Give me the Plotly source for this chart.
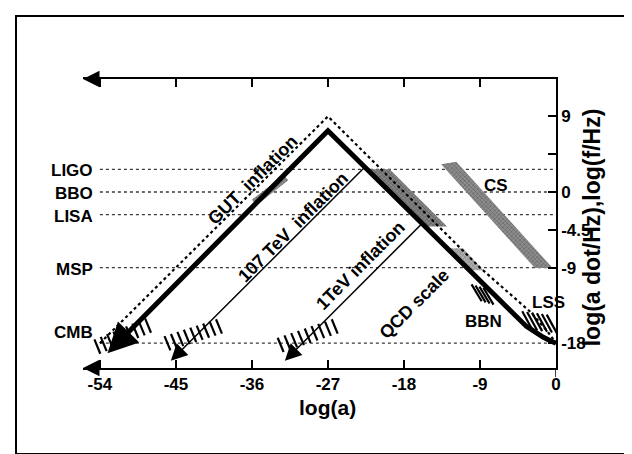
import plotly.graph_objects as go
import math

# ---------------- data ----------------
x_ticks = [-54, -45, -36, -27, -18, -9, 0]
y_ticks = [9, 4.5, 0, -4.5, -9, -18]
y_tick_text = ["9", "", "0", "-4.5", "-9", "-18"]

detector_names = ["LIGO", "BBO", "LISA", "MSP", "CMB"]
detector_logf = [2.7, 0.0, -2.7, -9.0, -18.0]

# thick solid line (GUT inflation), first point is the arrow tip
gut_x = [-53.1, -27.0, -3.5, -2.5, -1.5, -0.5, 0.0]
gut_y = [-19.2, 7.3, -16.0, -16.7, -17.3, -17.8, -18.0]

# dotted companion line
gut_dot_x = [-54.0, -27.0, -9.0, -3.0, -1.0, 0.0]
gut_dot_y = [-18.0, 9.0, -9.0, -14.3, -16.6, -18.0]

# thin lines (first point is arrow tip)
tev7_x = [-45.6, -22.8]
tev7_y = [-20.1, 2.8]
tev1_x = [-32.1, -16.0]
tev1_y = [-20.1, -3.9]

# shaded (stippled) regions
cs_x = [-13.6, -11.8, -0.4, -2.5]
cs_y = [3.3, 3.6, -9.05, -9.05]
band_x = [-22.5, -19.7, -12.9, -15.7]
band_y = [2.7, 2.7, -4.1, -4.1]
msp_x = [-13.1, -11.0, -8.6, -10.5]
msp_y = [-6.7, -6.7, -9.3, -9.3]
bbo_x = [-36.0, -32.2, -31.7, -35.5]
bbo_y = [-0.9, 2.0, 1.4, -1.6]

# hatched regions: axis along which strokes are placed, and stroke count
cmb_gut_axis_x = [-54.3, -48.3]
cmb_gut_axis_y = [-18.4, -15.9]
cmb_tev7_axis_x = [-46.0, -39.9]
cmb_tev7_axis_y = [-18.0, -16.0]
cmb_tev1_axis_x = [-32.6, -26.2]
cmb_tev1_axis_y = [-18.2, -16.0]
bbn_axis_x = [-9.4, -8.0]
bbn_axis_y = [-12.0, -12.4]
lss_axis_x = [-3.4, -0.5]
lss_axis_y = [-15.3, -15.7]
hatch_counts = [9, 9, 9, 4, 6]

curve_labels = ["GUT  inflation", "107 TeV  inflation", "1TeV inflation", "QCD scale"]
curve_label_x = [-35.9, -31.1, -23.1, -16.8]
curve_label_y = [1.4, -4.2, -8.7, -13.3]

region_labels = ["CS", "BBN", "LSS"]
region_label_x = [-7.1, -8.6, -0.9]
region_label_y = [0.8, -15.4, -13.2]

# ---------------- layout geometry ----------------
W, H = 632, 454
ML, MR, MT, MB = 75, 84, 71, 94
XR = [-56.0, 0.0]
YR = [-20.95, 13.45]
PW, PH = W - ML - MR, H - MT - MB


def px2paper(px, py):
    return (px - ML) / PW, (H - MB - py) / PH


FONT = "Liberation Sans, Arial, Helvetica, sans-serif"


def b(t):
    return "<b>" + t + "</b>" if t else ""


fig = go.Figure()

# horizontal detector lines
for v in detector_logf:
    fig.add_trace(go.Scatter(x=[x_ticks[0], x_ticks[-1]], y=[v, v], mode="lines",
                             line=dict(color="#3a3a3a", width=1.3, dash="dot"),
                             hoverinfo="skip"))


def stipple(xs, ys, bg="#b4b4b4", fg="#4a4a4a"):
    fig.add_trace(go.Scatter(x=xs + xs[:1], y=ys + ys[:1], mode="lines", fill="toself",
                             line=dict(width=0, color="rgba(0,0,0,0)"),
                             fillcolor=bg,
                             fillpattern=dict(shape="x", fgcolor=fg, bgcolor=bg,
                                              size=3, solidity=0.4),
                             hoverinfo="skip"))


stipple(cs_x, cs_y, bg="#8e8e8e", fg="#3c3c3c")
stipple(band_x, band_y, bg="#858585", fg="#2e2e2e")
stipple(msp_x, msp_y, bg="#b0b0b0", fg="#555555")
stipple(bbo_x, bbo_y, bg="#8e8e8e", fg="#404040")


def hatch(ax_x, ax_y, n, half):
    hx, hy = half
    xs, ys = [], []
    for i in range(n):
        t = i / (n - 1)
        cx = ax_x[0] + (ax_x[1] - ax_x[0]) * t
        cy = ax_y[0] + (ax_y[1] - ax_y[0]) * t
        xs += [cx - hx, cx + hx, None]
        ys += [cy + hy, cy - hy, None]
    fig.add_trace(go.Scatter(x=xs, y=ys, mode="lines",
                             line=dict(color="black", width=2.2), hoverinfo="skip"))


hatch_axes = [(cmb_gut_axis_x, cmb_gut_axis_y, (0.35, 0.85)),
              (cmb_tev7_axis_x, cmb_tev7_axis_y, (0.35, 0.85)),
              (cmb_tev1_axis_x, cmb_tev1_axis_y, (0.35, 0.85)),
              (bbn_axis_x, bbn_axis_y, (0.6, 1.0)),
              (lss_axis_x, lss_axis_y, (0.6, 1.1))]
for (hxs, hys, half), n in zip(hatch_axes, hatch_counts):
    hatch(hxs, hys, n, half)


def arrow_base(xs, ys, dist):
    dx, dy = xs[1] - xs[0], ys[1] - ys[0]
    n = math.hypot(dx, dy)
    return xs[0] + dx / n * dist, ys[0] + dy / n * dist


# dotted line
fig.add_trace(go.Scatter(x=gut_dot_x, y=gut_dot_y, mode="lines",
                         line=dict(color="black", width=2.2, dash="dot"), hoverinfo="skip"))

annotations = []
for xs, ys, w, dist, asize in [(gut_x, gut_y, 5.0, 2.0, 1.2),
                               (tev7_x, tev7_y, 1.5, 1.6, 2.2),
                               (tev1_x, tev1_y, 1.5, 1.6, 2.2)]:
    bx, by = arrow_base(xs, ys, dist)
    fig.add_trace(go.Scatter(x=[bx] + xs[1:], y=[by] + ys[1:], mode="lines",
                             line=dict(color="black", width=w), hoverinfo="skip"))
    annotations.append(dict(x=xs[0], y=ys[0], ax=bx, ay=by, xref="x", yref="y",
                            axref="x", ayref="y", showarrow=True, arrowhead=2,
                            arrowsize=asize, arrowwidth=w, arrowcolor="black",
                            standoff=0, text=""))

# axis arrows at left end of top and bottom axes
for yv in [YR[0], YR[1]]:
    annotations.append(dict(x=XR[0], y=yv, ax=XR[0] + 1.5, ay=yv, xref="x", yref="y",
                            axref="x", ayref="y", showarrow=True, arrowhead=2,
                            arrowsize=2.2, arrowwidth=1.5, arrowcolor="black",
                            standoff=0, text=""))

# detector labels
for name, v in zip(detector_names, detector_logf):
    off = 1.3 if name == "CMB" else -0.2
    annotations.append(dict(x=-54.6, y=v + off, xref="x", yref="y", text=b(name),
                            showarrow=False, xanchor="right", yanchor="middle",
                            font=dict(family=FONT, size=17, color="black")))

for t, lx, ly in zip(curve_labels, curve_label_x, curve_label_y):
    annotations.append(dict(x=lx, y=ly, xref="x", yref="y", text=b(t), showarrow=False,
                            textangle=-45,
                            font=dict(family=FONT, size=18, color="black")))

for t, lx, ly in zip(region_labels, region_label_x, region_label_y):
    annotations.append(dict(x=lx, y=ly, xref="x", yref="y", text=b(t), showarrow=False,
                            font=dict(family=FONT, size=17, color="black")))

# axis titles
annotations.append(dict(x=-27.0, y=px2paper(0, 413)[1], xref="x", yref="paper",
                        text=b("log(a)"), showarrow=False,
                        font=dict(family=FONT, size=21, color="black")))
annotations.append(dict(x=px2paper(599, 0)[0], y=-4.2, xref="paper", yref="y",
                        text=b("log(a dot/Hz),log(f/Hz)"), showarrow=False, textangle=-90,
                        font=dict(family=FONT, size=23, color="black")))

bx0, by0 = px2paper(8, 446)
bx1, by1 = px2paper(624, 8)
shapes = [
    dict(type="rect", xref="paper", yref="paper", x0=bx0, y0=by0, x1=bx1, y1=by1,
         line=dict(color="black", width=2)),
    dict(type="line", xref="x", yref="paper", x0=0, x1=0, y0=0, y1=px2paper(0, 369)[1],
         line=dict(color="black", width=1.5)),
]

fig.update_layout(
    width=W, height=H, margin=dict(l=ML, r=MR, t=MT, b=MB),
    paper_bgcolor="white", plot_bgcolor="white", showlegend=False,
    annotations=annotations, shapes=shapes,
    xaxis=dict(range=XR, tickvals=x_ticks, ticktext=[b(str(v)) for v in x_ticks],
               ticks="inside", ticklen=8, tickwidth=1.5, tickcolor="black",
               showline=True, linecolor="black", linewidth=1.5, mirror="ticks",
               showgrid=False, zeroline=False,
               tickfont=dict(family=FONT, size=17, color="black")),
    yaxis=dict(range=YR, side="right", tickvals=y_ticks,
               ticktext=[b(t) for t in y_tick_text],
               ticks="inside", ticklen=8, tickwidth=1.5, tickcolor="black",
               showline=True, linecolor="black", linewidth=1.5,
               showgrid=False, zeroline=False,
               tickfont=dict(family=FONT, size=17, color="black")),
)

fig.write_html("out.html")
